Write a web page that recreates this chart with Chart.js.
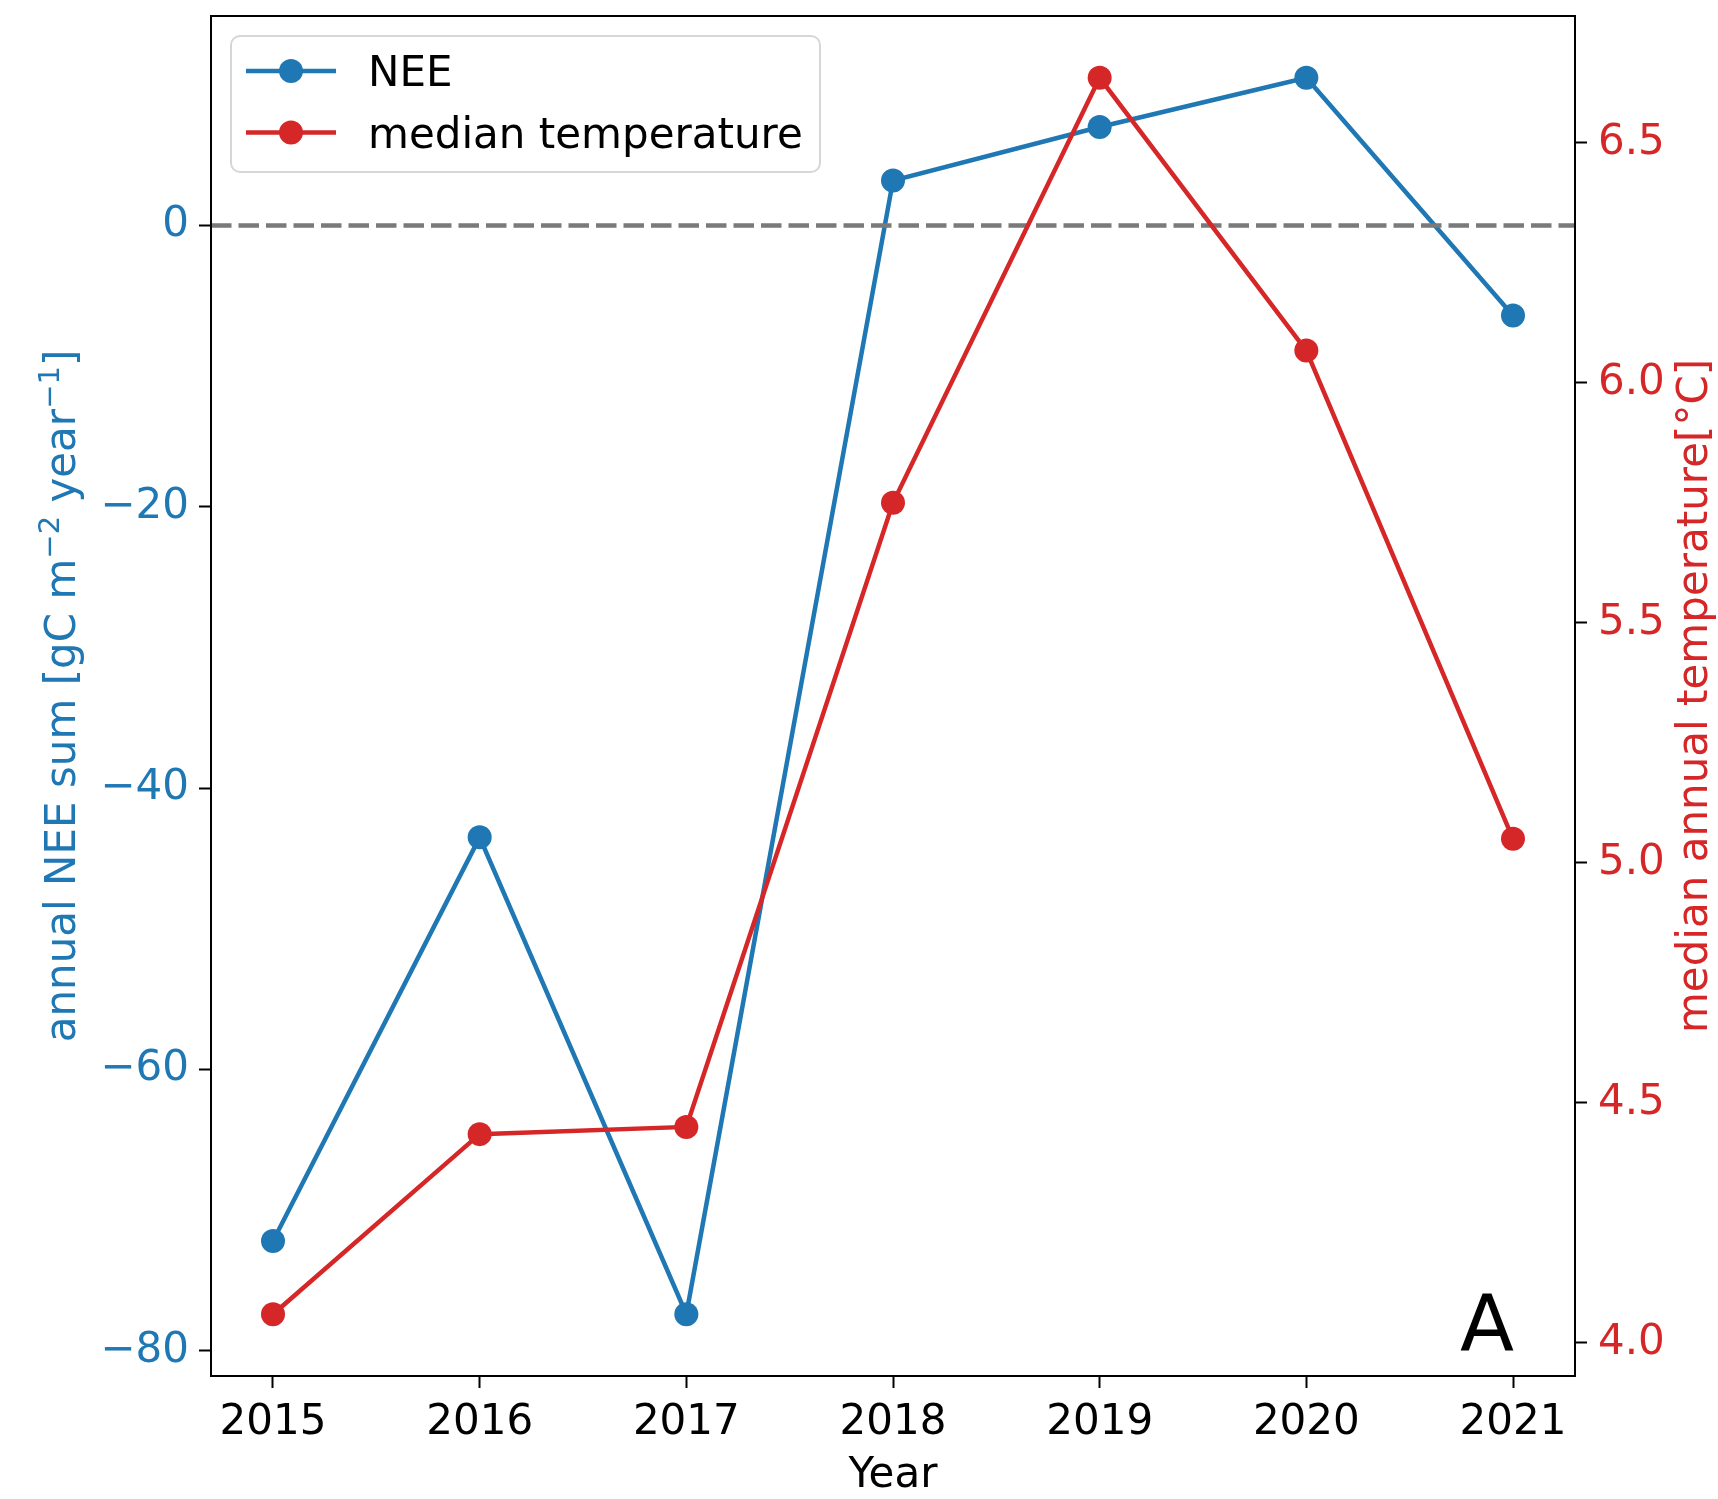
<!DOCTYPE html>
<html>
<head>
<meta charset="utf-8">
<script src="https://cdn.jsdelivr.net/npm/chart.js@4.4.0/dist/chart.umd.min.js"></script>
<style>
  html, body { margin: 0; padding: 0; background: #fff; }
  #wrap { width: 1718px; height: 1499px; position: relative; }
</style>
</head>
<body>
<div id="wrap"><canvas id="myChart"></canvas></div>
<script>
// Yearly values
const years = [2015, 2016, 2017, 2018, 2019, 2020, 2021];
const neeSum = [-72.2, -43.5, -77.4, 3.2, 7.0, 10.5, -6.4];
const medianTemp = [4.06, 4.435, 4.45, 5.75, 6.635, 6.067, 5.05];
const neeTicks = [-80, -60, -40, -20, 0];
const tempTicks = [4.0, 4.5, 5.0, 5.5, 6.0, 6.5];

const BLUE = '#1f77b4';
const RED = '#d62728';
const FONT = "'DejaVu Sans', sans-serif";
const FS = 42;

// 5% margin on each side, like matplotlib autoscaling
function padded(values) {
  const lo = Math.min(...values);
  const hi = Math.max(...values);
  const m = (hi - lo) * 0.05;
  return { min: lo - m, max: hi + m };
}
const xRange = padded(years);
const neeRange = padded(neeSum);
const tempRange = padded(medianTemp);

function fixedTicks(list) {
  return scale => { scale.ticks = list.map(v => ({ value: v })); };
}
function withMinus(v) {
  return v < 0 ? '\u2212' + Math.abs(v) : String(v);
}
// fixed box size, no extra room for overhanging labels
function boxSize(w, h) {
  return s => {
    if (w) s.width = w;
    if (h) s.height = h;
    s.paddingTop = s.paddingBottom = s.paddingLeft = s.paddingRight = 0;
  };
}

const tickGrid = {
  drawOnChartArea: false,
  tickLength: 12,
  tickWidth: 2,
  tickColor: '#000'
};

// horizontal dashed line at zero, drawn right after the NEE line
const zeroLine = {
  id: 'zeroLine',
  afterDatasetDraw(chart, args) {
    if (args.index !== 0) return;
    const ctx = chart.ctx;
    const a = chart.chartArea;
    const y = chart.scales.yNee.getPixelForValue(0);
    ctx.save();
    ctx.strokeStyle = '#7a7a7a';
    ctx.lineWidth = 4.5;
    ctx.setLineDash([20.5, 7]);
    ctx.beginPath();
    ctx.moveTo(a.left, y);
    ctx.lineTo(a.right, y);
    ctx.stroke();
    ctx.restore();
  }
};

// frame, legend box, panel letter and axis titles
const decorations = {
  id: 'decorations',
  afterDraw(chart) {
    const ctx = chart.ctx;
    const a = chart.chartArea;
    const cy = (a.top + a.bottom) / 2;
    ctx.save();

    ctx.strokeStyle = '#000';
    ctx.lineWidth = 2;
    ctx.strokeRect(a.left, a.top, a.right - a.left, a.bottom - a.top);

    // legend
    const x0 = a.left + 20, y0 = a.top + 20, w = 589, h = 136, r = 9;
    ctx.beginPath();
    ctx.moveTo(x0 + r, y0);
    ctx.arcTo(x0 + w, y0, x0 + w, y0 + h, r);
    ctx.arcTo(x0 + w, y0 + h, x0, y0 + h, r);
    ctx.arcTo(x0, y0 + h, x0, y0, r);
    ctx.arcTo(x0, y0, x0 + w, y0, r);
    ctx.closePath();
    ctx.fillStyle = 'rgba(255,255,255,0.8)';
    ctx.fill();
    ctx.strokeStyle = '#d6d6d6';
    ctx.lineWidth = 2;
    ctx.stroke();

    const rows = [y0 + 35, y0 + 96.5];
    chart.data.datasets.forEach((ds, i) => {
      const ry = rows[i];
      ctx.strokeStyle = ds.borderColor;
      ctx.lineWidth = ds.borderWidth;
      ctx.beginPath();
      ctx.moveTo(x0 + 15, ry);
      ctx.lineTo(x0 + 105, ry);
      ctx.stroke();
      ctx.fillStyle = ds.backgroundColor;
      ctx.beginPath();
      ctx.arc(x0 + 60, ry, ds.pointRadius, 0, Math.PI * 2);
      ctx.fill();
      ctx.fillStyle = '#000';
      ctx.font = FS + 'px ' + FONT;
      ctx.textAlign = 'left';
      ctx.textBaseline = 'alphabetic';
      ctx.fillText(ds.label, x0 + 137, ry + 15);
    });

    // panel letter
    ctx.fillStyle = '#000';
    ctx.font = '79px ' + FONT;
    ctx.textAlign = 'center';
    ctx.textBaseline = 'alphabetic';
    ctx.fillText('A', a.right - 88, a.bottom - 25);

    // x title
    ctx.font = FS + 'px ' + FONT;
    ctx.fillText('Year', (a.left + a.right) / 2, 1487);

    // left title with superscripts
    const parts = [
      ['annual NEE sum [gC m', false],
      ['\u22122', true],
      [' year', false],
      ['\u22121', true],
      [']', false]
    ];
    const sizeOf = sup => (sup ? 29 : FS);
    let total = 0;
    parts.forEach(([t, sup]) => {
      ctx.font = sizeOf(sup) + 'px ' + FONT;
      total += ctx.measureText(t).width;
    });
    ctx.save();
    ctx.translate(75, cy);
    ctx.rotate(-Math.PI / 2);
    ctx.fillStyle = BLUE;
    ctx.textAlign = 'left';
    let px = -total / 2;
    parts.forEach(([t, sup]) => {
      ctx.font = sizeOf(sup) + 'px ' + FONT;
      ctx.fillText(t, px, sup ? -16 : 0);
      px += ctx.measureText(t).width;
    });
    ctx.restore();

    // right title
    ctx.save();
    ctx.translate(1707, cy);
    ctx.rotate(-Math.PI / 2);
    ctx.fillStyle = RED;
    ctx.font = FS + 'px ' + FONT;
    ctx.textAlign = 'center';
    ctx.fillText('median annual temperature[\u00b0C]', 0, 0);
    ctx.restore();

    ctx.restore();
  }
};

const ctx = document.getElementById('myChart');
const myChart = new Chart(ctx, {
  type: 'line',
  data: {
    datasets: [
      {
        label: 'NEE',
        data: years.map((y, i) => ({ x: y, y: neeSum[i] })),
        yAxisID: 'yNee',
        borderColor: BLUE,
        backgroundColor: BLUE,
        borderWidth: 4.5,
        pointRadius: 12,
        pointBorderWidth: 0,
        order: 1
      },
      {
        label: 'median temperature',
        data: years.map((y, i) => ({ x: y, y: medianTemp[i] })),
        yAxisID: 'yTemp',
        borderColor: RED,
        backgroundColor: RED,
        borderWidth: 4.5,
        pointRadius: 12,
        pointBorderWidth: 0,
        order: 0
      }
    ]
  },
  options: {
    responsive: true,
    maintainAspectRatio: false,
    animation: false,
    events: [],
    layout: { padding: { top: 16, left: 0, right: 0, bottom: 0 } },
    plugins: {
      legend: { display: false },
      tooltip: { enabled: false }
    },
    scales: {
      x: {
        type: 'linear',
        min: xRange.min,
        max: xRange.max,
        afterBuildTicks: fixedTicks(years),
        afterFit: boxSize(0, 123),
        border: { display: false },
        grid: tickGrid,
        ticks: {
          color: '#000',
          font: { family: FONT, size: FS },
          padding: 10,
          maxRotation: 0,
          callback: v => String(v)
        }
      },
      yNee: {
        type: 'linear',
        position: 'left',
        min: neeRange.min,
        max: neeRange.max,
        afterBuildTicks: fixedTicks(neeTicks),
        afterFit: boxSize(211, 0),
        border: { display: false },
        grid: tickGrid,
        ticks: {
          color: BLUE,
          font: { family: FONT, size: FS },
          padding: 10,
          callback: v => withMinus(v)
        }
      },
      yTemp: {
        type: 'linear',
        position: 'right',
        min: tempRange.min,
        max: tempRange.max,
        afterBuildTicks: fixedTicks(tempTicks),
        afterFit: boxSize(143, 0),
        border: { display: false },
        grid: tickGrid,
        ticks: {
          color: RED,
          font: { family: FONT, size: FS },
          padding: 11,
          callback: v => v.toFixed(1)
        }
      }
    }
  },
  plugins: [zeroLine, decorations]
});
</script>
</body>
</html>
